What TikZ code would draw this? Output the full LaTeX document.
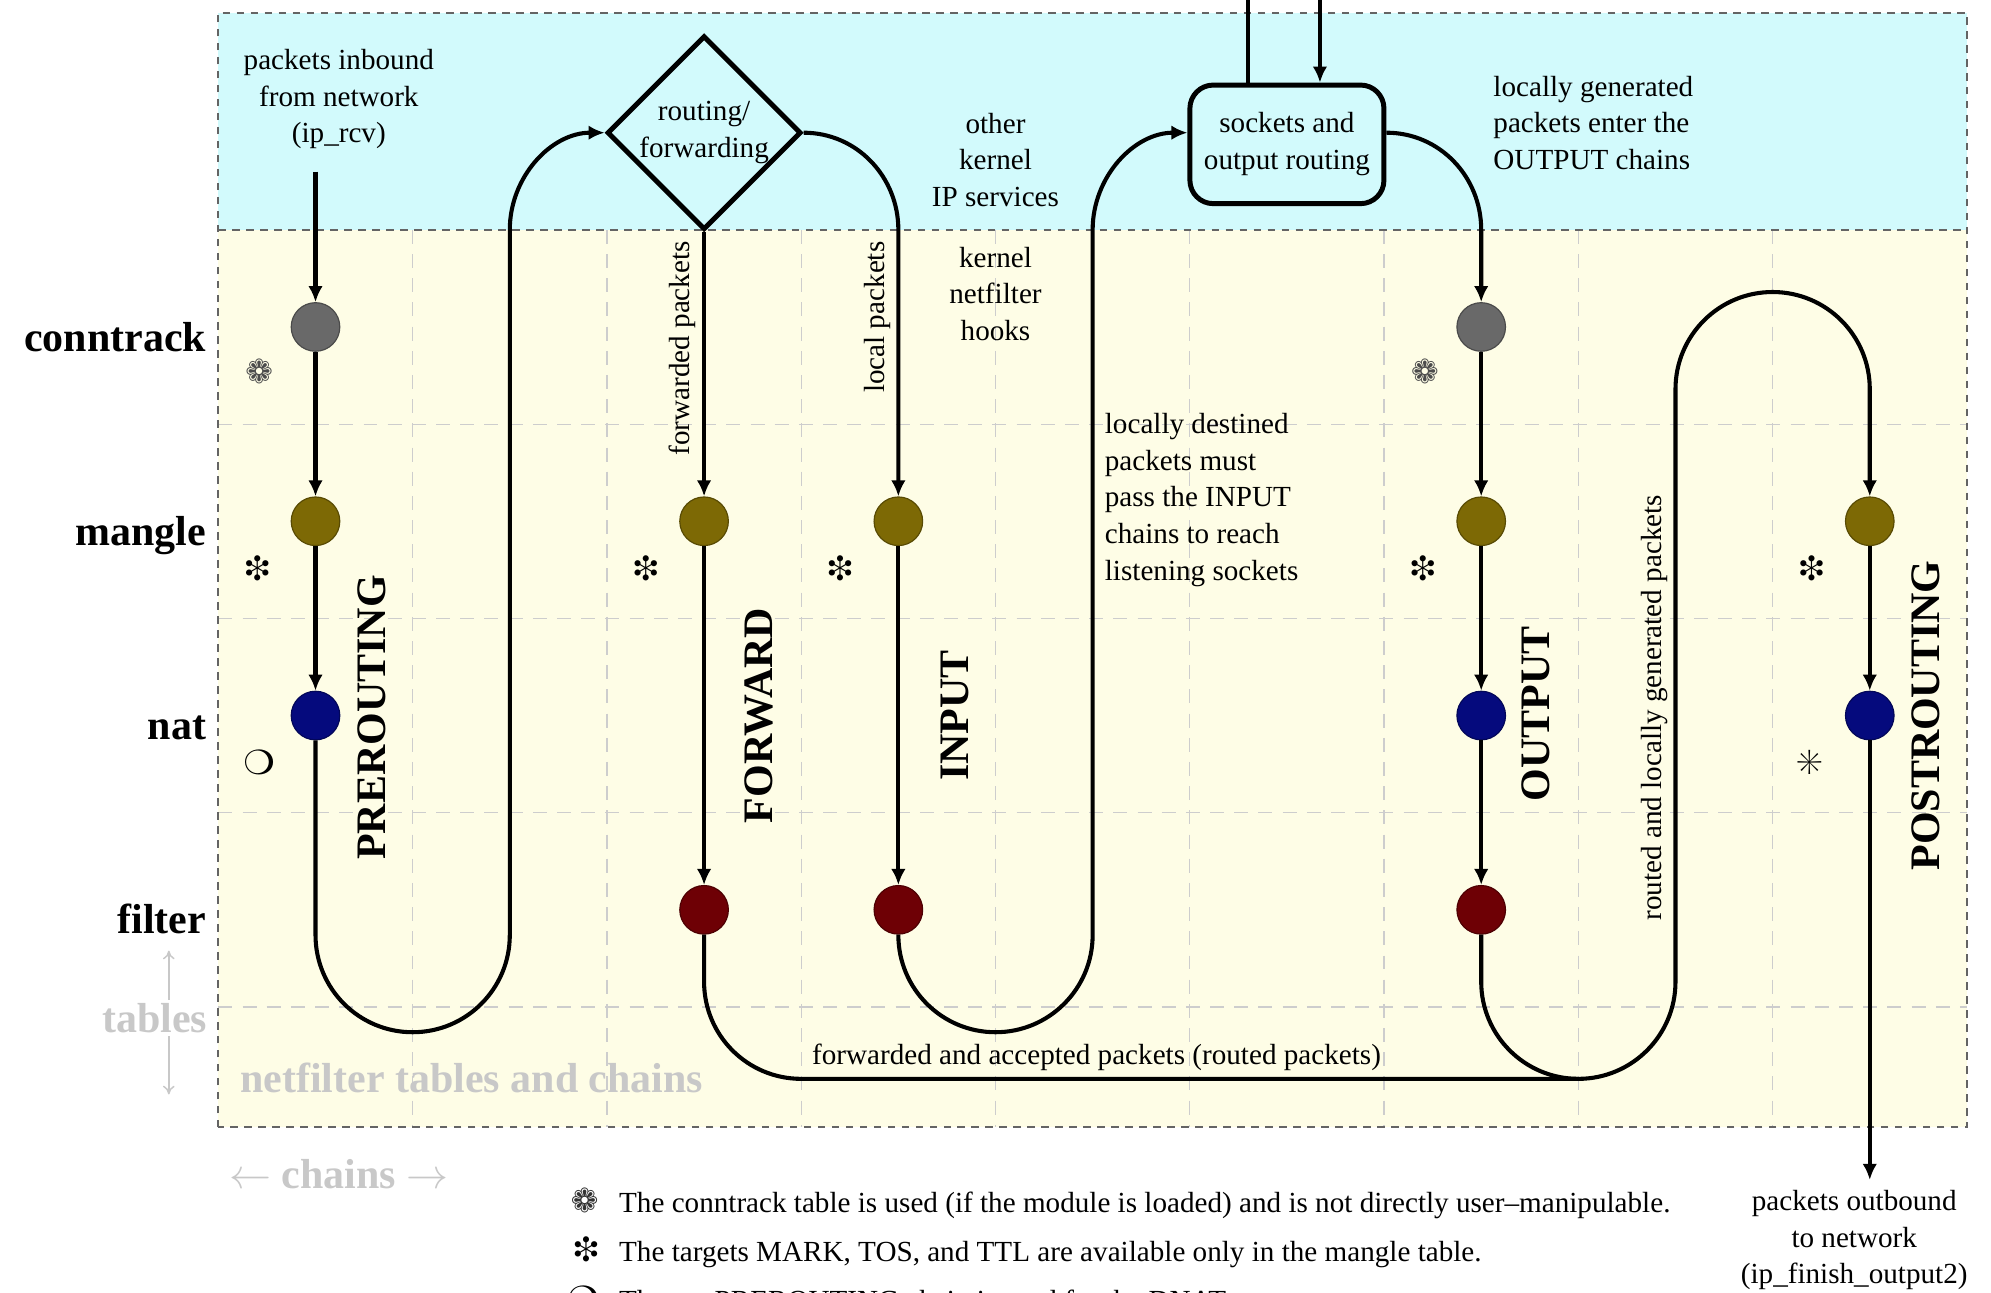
\documentclass[tikz,border=0pt]{standalone}
\usepackage{fontspec}
\setmainfont{Liberation Serif}
\usepackage{pifont}
\usetikzlibrary{shapes.geometric,arrows.meta}

\definecolor{kernelbg}{RGB}{210,250,252}
\definecolor{hookbg}{RGB}{254,253,230}
\definecolor{gridgray}{RGB}{205,205,205}
\definecolor{framegray}{RGB}{100,100,100}
\definecolor{faint}{RGB}{200,200,200}
\definecolor{ctgray}{RGB}{105,105,105}
\definecolor{mgolive}{RGB}{125,105,5}
\definecolor{natblue}{RGB}{5,10,125}
\definecolor{fltred}{RGB}{110,0,5}

\tikzset{
  flow/.style={line width=1.4pt},
  arr/.style={-{Latex[length=5.5pt,width=5pt]}},
  faintarr/.style={faint, line width=0.5pt, -{To[length=3pt,width=4pt]}},
  txt/.style={font=\fontsize{10pt}{12.6pt}\selectfont, align=center},
  chainname/.style={rotate=90, font=\Large\bfseries},
  tablename/.style={anchor=base east, font=\Large\bfseries},
  faintlbl/.style={text=faint, font=\Large\bfseries},
  gridline/.style={gridgray, line width=0.4pt, dash pattern=on 4.8pt off 3.5pt},
  frameline/.style={framegray, line width=0.7pt, dash pattern=on 2.6pt off 2.2pt}
}

\begin{document}
\begin{tikzpicture}[x=2.343cm,y=2.343cm]
  \useasboundingbox (-1.124,-5.471) rectangle (9.124,1.183);

  % kernel area and netfilter area
  \fill[kernelbg] (0,0) rectangle (9,1.118);
  \fill[hookbg] (0,-4.62) rectangle (9,0);
  \foreach \x in {1,...,8}
    \draw[gridline] (\x,0) -- (\x,-4.62);
  \foreach \y in {-1,...,-4}
    \draw[gridline] (0,\y) -- (9,\y);
  \draw[frameline] (0,0) -- (9,0);
  \draw[frameline] (0,-4.62) rectangle (9,1.118);

  % tables
  \node[tablename] (conntrack) at (-0.01,-0.625) {conntrack};
  \node[tablename] (mangle)    at (-0.01,-1.625) {mangle};
  \node[tablename] (nat)       at (-0.01,-2.625) {nat};
  \node[tablename] (filter)    at (-0.01,-3.62)  {filter};
  \node[faintlbl, anchor=base east, inner sep=1pt] (tables) at (-0.04,-4.13) {tables};
  \coordinate (tabtop) at (-0.255,-3.71);
  \coordinate (tabbot) at (-0.255,-4.45);
  \draw[faintarr] (tables.north -| tabtop) -- (tabtop);
  \draw[faintarr] (tables.south -| tabbot) -- (tabbot);
  \node[faintlbl] (chains) at (0.62,-4.86) {$\leftarrow$ chains $\rightarrow$};
  \node[faintlbl, anchor=base west] (nftitle) at (0.06,-4.44) {netfilter tables and chains};

  % hooks
  \begin{scope}[every node/.style={circle, inner sep=0pt, minimum size=0.586cm, line width=0.4pt}]
    \node[fill=ctgray,  draw=ctgray!70!black]  (pre-ct)   at (0.5,-0.5) {};
    \node[fill=mgolive, draw=mgolive!70!black] (pre-mg)   at (0.5,-1.5) {};
    \node[fill=natblue, draw=natblue!70!black] (pre-nat)  at (0.5,-2.5) {};
    \node[fill=mgolive, draw=mgolive!70!black] (fwd-mg)   at (2.5,-1.5) {};
    \node[fill=fltred,  draw=fltred!70!black]  (fwd-flt)  at (2.5,-3.5) {};
    \node[fill=mgolive, draw=mgolive!70!black] (in-mg)    at (3.5,-1.5) {};
    \node[fill=fltred,  draw=fltred!70!black]  (in-flt)   at (3.5,-3.5) {};
    \node[fill=ctgray,  draw=ctgray!70!black]  (out-ct)   at (6.5,-0.5) {};
    \node[fill=mgolive, draw=mgolive!70!black] (out-mg)   at (6.5,-1.5) {};
    \node[fill=natblue, draw=natblue!70!black] (out-nat)  at (6.5,-2.5) {};
    \node[fill=fltred,  draw=fltred!70!black]  (out-flt)  at (6.5,-3.5) {};
    \node[fill=mgolive, draw=mgolive!70!black] (post-mg)  at (8.5,-1.5) {};
    \node[fill=natblue, draw=natblue!70!black] (post-nat) at (8.5,-2.5) {};
  \end{scope}

  % table marks
  \begin{scope}[every node/.style={font=\large}]
    \node[text=black!70] (pre-ctmark)  at (0.21,-0.73) {\ding{97}};
    \node[text=black!70] (out-ctmark)  at (6.21,-0.73) {\ding{97}};
    \node (pre-mgmark)  at (0.20,-1.74) {\ding{105}};
    \node (fwd-mgmark)  at (2.20,-1.74) {\ding{105}};
    \node (in-mgmark)   at (3.20,-1.74) {\ding{105}};
    \node (out-mgmark)  at (6.20,-1.74) {\ding{105}};
    \node (post-mgmark) at (8.20,-1.74) {\ding{105}};
    \node (pre-natmark) at (0.21,-2.74) {\ding{109}};
    \node (post-natmark) at (8.19,-2.74) {\ding{83}};
  \end{scope}

  % chains
  \node[chainname] (prerouting)  at (0.79,-2.51) {PREROUTING};
  \node[chainname] (forward)     at (2.78,-2.50) {FORWARD};
  \node[chainname] (input)       at (3.79,-2.50) {INPUT};
  \node[chainname] (output)      at (6.78,-2.49) {OUTPUT};
  \node[chainname] (postrouting) at (8.79,-2.50) {POSTROUTING};

  % kernel side
  \node[draw, diamond, aspect=1, line width=1.7pt, fill=kernelbg, minimum width=2.34cm,
        minimum height=2.34cm, inner sep=0pt, txt] (route) at (2.5,0.5) {routing/\\forwarding};
  \node[draw, rounded corners=8pt, line width=1.7pt, fill=kernelbg, minimum width=2.34cm,
        minimum height=1.43cm, txt] (sockets) at (5.5,0.44) {sockets and\\output routing};

  \node[txt] (inbound) at (0.62,0.673) {packets inbound\\from network\\(ip\_rcv)};
  \node[txt] (services) at (4.0,0.36) {other\\kernel\\IP services};
  \node[txt] (nfhooks) at (4.0,-0.33) {kernel\\netfilter\\hooks};
  \node[txt, align=left, anchor=west] (destined) at (4.51,-1.39)
    {locally destined\\packets must\\pass the INPUT\\chains to reach\\listening sockets};
  \node[txt, align=left, anchor=west] (generated) at (6.51,0.55)
    {locally generated\\packets enter the\\OUTPUT chains};
  \node[txt, rotate=90] (fwdpackets) at (2.39,-0.61) {forwarded packets};
  \node[txt, rotate=90] (localpackets) at (3.39,-0.45) {local packets};
  \node[txt] (accepted) at (4.52,-4.26) {forwarded and accepted packets (routed packets)};
  \node[txt, rotate=90] (routedlocal) at (7.39,-2.46) {routed and locally generated packets};
  \node[txt] (outbound) at (8.42,-5.20) {packets outbound\\to network\\(ip\_finish\_output2)};

  % legend
  \node[font=\large, text=black!80, anchor=base east] (leg1mark) at (2.01,-5.06) {\ding{97}};
  \node[txt, anchor=base west] (leg1) at (2.01,-5.06)
    {The conntrack table is used (if the module is loaded) and is not directly user–manipulable.};
  \node[font=\large, anchor=base east] (leg2mark) at (2.01,-5.31) {\ding{105}};
  \node[txt, anchor=base west] (leg2) at (2.01,-5.31)
    {The targets MARK, TOS, and TTL are available only in the mangle table.};
  \node[font=\large, anchor=base east] (leg3mark) at (2.01,-5.56) {\ding{109}};
  \node[txt, anchor=base west] (leg3) at (2.01,-5.56)
    {The nat PREROUTING chain is used for the DNAT target.};

  % packet flow
  \coordinate (rcv) at (0.5,0.30);
  \coordinate (fromsock) at (5.30,1.183);
  \coordinate (tosock) at (5.67,1.183);

  \begin{scope}[every edge/.style={draw, flow, arr}]
    \path (rcv)     edge (pre-ct);
    \path (pre-ct)  edge (pre-mg);
    \path (pre-mg)  edge (pre-nat);
    \path (route)   edge (fwd-mg);
    \path (fwd-mg)  edge (fwd-flt);
    \path (in-mg)   edge (in-flt);
    \path (out-ct)  edge (out-mg);
    \path (out-mg)  edge (out-nat);
    \path (out-nat) edge (out-flt);
    \path (post-mg) edge (post-nat);
    \path (tosock)  edge (sockets.north -| tosock);
    \path (post-nat) edge (post-nat |- outbound.north);
  \end{scope}

  \draw[flow] (sockets.north -| fromsock) -- (fromsock);
  \draw[flow, arr] (pre-nat) -- (0.5,-3.63) arc[start angle=180, end angle=360, radius=0.5]
    -- (1.5,0) to[out=90, in=180] (route.west);
  \draw[flow, arr] (route.east) to[out=0, in=90] (3.5,0) -- (in-mg);
  \draw[flow, arr] (in-flt) -- (3.5,-3.63) arc[start angle=180, end angle=360, radius=0.5]
    -- (4.5,0) to[out=90, in=180] ([yshift=4pt]sockets.west);
  \draw[flow, arr] ([yshift=4pt]sockets.east) to[out=0, in=90] (6.5,0) -- (out-ct);
  \draw[flow] (fwd-flt) -- (2.5,-3.87) to[out=-90, in=180] (3.0,-4.37) -- (7.0,-4.37);
  \draw[flow, arr] (out-flt) -- (6.5,-3.87) arc[start angle=180, end angle=360, radius=0.5]
    -- (7.5,-0.82) arc[start angle=180, end angle=0, radius=0.5] -- (post-mg);

\end{tikzpicture}
\end{document}
